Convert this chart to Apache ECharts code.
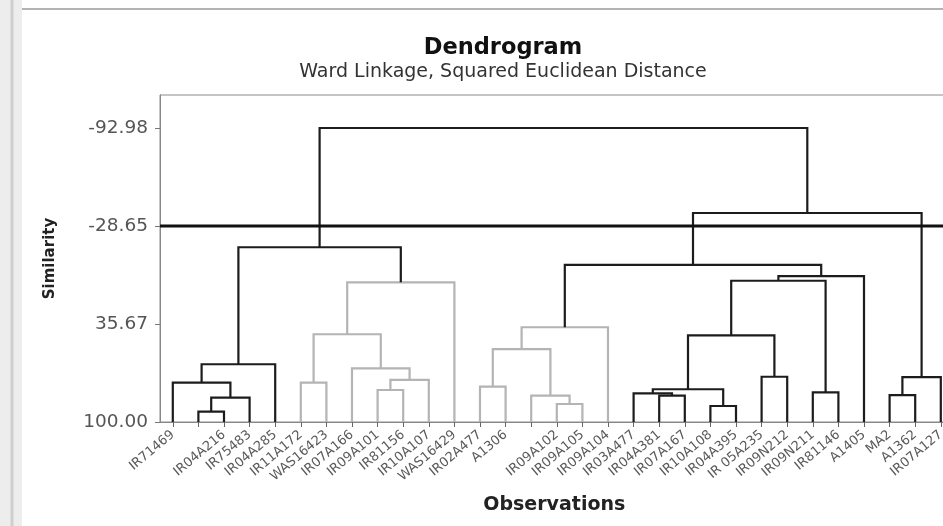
<!DOCTYPE html>
<html><head><meta charset="utf-8">
<script src="https://cdn.jsdelivr.net/npm/echarts@6/dist/echarts.min.js"></script>
<style>html,body{margin:0;padding:0;background:#fff}#c{width:943px;height:526px}</style>
</head><body><div id="c"></div>
<script>
// Leaf (observation) labels in dendrogram order; two leaves show no label in the reference
const leafLabels = ['IR71469','','IR04A216','IR75483','IR04A285','IR11A172','WAS16423','IR07A166',
  'IR09A101','IR81156','IR10A107','WAS16429','IR02A477','A1306','','IR09A102','IR09A105','IR09A104',
  'IR03A477','IR04A381','IR07A167','IR10A108','IR04A395','IR 05A235','IR09N212','IR09N211','IR81146',
  'A1405','MA2','A1362','IR07A127'];
const yTicks = [-92.98, -28.65, 35.67, 100.00];
const cutLevel = -28.65;
// merges: node ids 1..31 are leaves, merge k creates node 32+k
const mergeLeft   = [2, 32, 1, 34, 6, 9, 37, 8, 36, 40, 35, 13, 16, 15, 43, 46, 20, 19, 22, 49, 24, 51, 26, 53, 55, 47, 29, 58, 57, 42];
const mergeRight  = [3, 4, 33, 5, 7, 10, 11, 38, 39, 12, 41, 14, 17, 44, 45, 18, 21, 48, 23, 50, 25, 52, 27, 54, 28, 56, 30, 31, 59, 60];
const mergeHeight = [93.2, 84.0, 74.2, 62.1, 74.2, 79.0, 72.4, 64.8, 42.4, 8.3, -14.7, 76.8, 88.2, 82.7, 52.1, 37.8,
  82.7, 81.2, 89.5, 78.5, 70.3, 43.1, 80.5, 7.3, 4.2, -3.1, 82.3, 70.5, -37.2, -92.98];
const mergeGroup  = [0, 0, 0, 0, 1, 1, 1, 1, 1, 1, 0, 1, 1, 1, 1, 1, 0, 0, 0, 0, 0, 0, 0, 0, 0, 0, 0, 0, 0, 0];

const nLeaf = leafLabels.length;
const nodeX = {}, nodeH = {};
for (let i = 1; i <= nLeaf; i++) { nodeX[i] = i; nodeH[i] = 100; }
const links = [];
mergeLeft.forEach((l, k) => {
  const r = mergeRight[k], id = nLeaf + 1 + k;
  nodeX[id] = (nodeX[l] + nodeX[r]) / 2;
  nodeH[id] = mergeHeight[k];
  links.push([nodeX[l], nodeH[l], nodeX[r], nodeH[r], mergeHeight[k], mergeGroup[k]]);
});
const leafPos = leafLabels.map((_, i) => i + 1);
const FONT = 'DejaVu Sans';

const chart = echarts.init(document.getElementById('c'));
chart.setOption({
  animation: false,
  backgroundColor: '#fff',
  textStyle: { fontFamily: FONT },
  graphic: [
    { type: 'rect', shape: { x: 0, y: 0, width: 22, height: 526 }, style: { fill: '#ededed' }, silent: true },
    { type: 'line', shape: { x1: 12, y1: 0, x2: 12, y2: 526 }, style: { stroke: '#cfcfcf', lineWidth: 3 }, silent: true },
    { type: 'line', shape: { x1: 22, y1: 9, x2: 943, y2: 9 }, style: { stroke: '#9a9a9a', lineWidth: 1.5 }, silent: true }
  ],
  title: {
    text: 'Dendrogram',
    subtext: 'Ward Linkage, Squared Euclidean Distance',
    left: 498, top: 32, textAlign: 'center', itemGap: 3,
    textStyle: { fontFamily: FONT, fontSize: 22.5, fontWeight: 'bold', color: '#111' },
    subtextStyle: { fontFamily: FONT, fontSize: 19, color: '#333' }
  },
  grid: { left: 160, top: 95, width: 793.6, height: 327, outerBoundsMode: 'none', containLabel: false,
    show: true, borderColor: '#8a8a8a', borderWidth: 1 },
  xAxis: {
    type: 'value', min: 0.5, max: 31.5,
    name: 'Observations', nameLocation: 'middle', nameGap: 74,
    nameTextStyle: { fontFamily: FONT, fontSize: 19, fontWeight: 'bold', color: '#222', padding: [0, 5, 0, 0] },
    axisLine: { show: true, onZero: false, lineStyle: { color: '#888', width: 1 } },
    axisTick: { show: true, customValues: leafPos, length: 5, lineStyle: { color: '#666' } },
    axisLabel: { customValues: leafPos, formatter: v => leafLabels[Math.round(v) - 1], rotate: 40,
      fontSize: 13, color: '#5a5a5a', margin: 11, fontFamily: FONT },
    splitLine: { show: false }
  },
  yAxis: {
    type: 'value', inverse: true, min: -114.64, max: 100,
    name: 'Similarity', nameLocation: 'middle', nameGap: 102,
    nameTextStyle: { fontFamily: FONT, fontSize: 15, fontWeight: 'bold', color: '#222' },
    axisLine: { show: true, onZero: false, lineStyle: { color: '#888', width: 1 } },
    axisTick: { show: true, customValues: yTicks, length: 5, lineStyle: { color: '#777' } },
    axisLabel: { customValues: yTicks, formatter: v => v.toFixed(2), fontSize: 18.5, color: '#555', margin: 12, fontFamily: FONT },
    splitLine: { show: false }
  },
  series: [
    {
      type: 'custom', silent: true,
      data: links,
      encode: { x: [0, 2], y: [1, 3, 4] },
      renderItem: (params, api) => {
        const p1 = api.coord([api.value(0), api.value(1)]);
        const p2 = api.coord([api.value(0), api.value(4)]);
        const p3 = api.coord([api.value(2), api.value(4)]);
        const p4 = api.coord([api.value(2), api.value(3)]);
        const grey = api.value(5) === 1;
        return { type: 'polyline', shape: { points: [p1, p2, p3, p4] },
          style: { fill: 'none', stroke: grey ? '#b4b4b4' : '#1c1c1c', lineWidth: 2.2 } };
      }
    },
    {
      type: 'line', silent: true, symbol: 'none',
      data: [[0.5, cutLevel], [31.5, cutLevel]],
      lineStyle: { color: '#111', width: 3 }
    }
  ]
});
</script></body></html>
